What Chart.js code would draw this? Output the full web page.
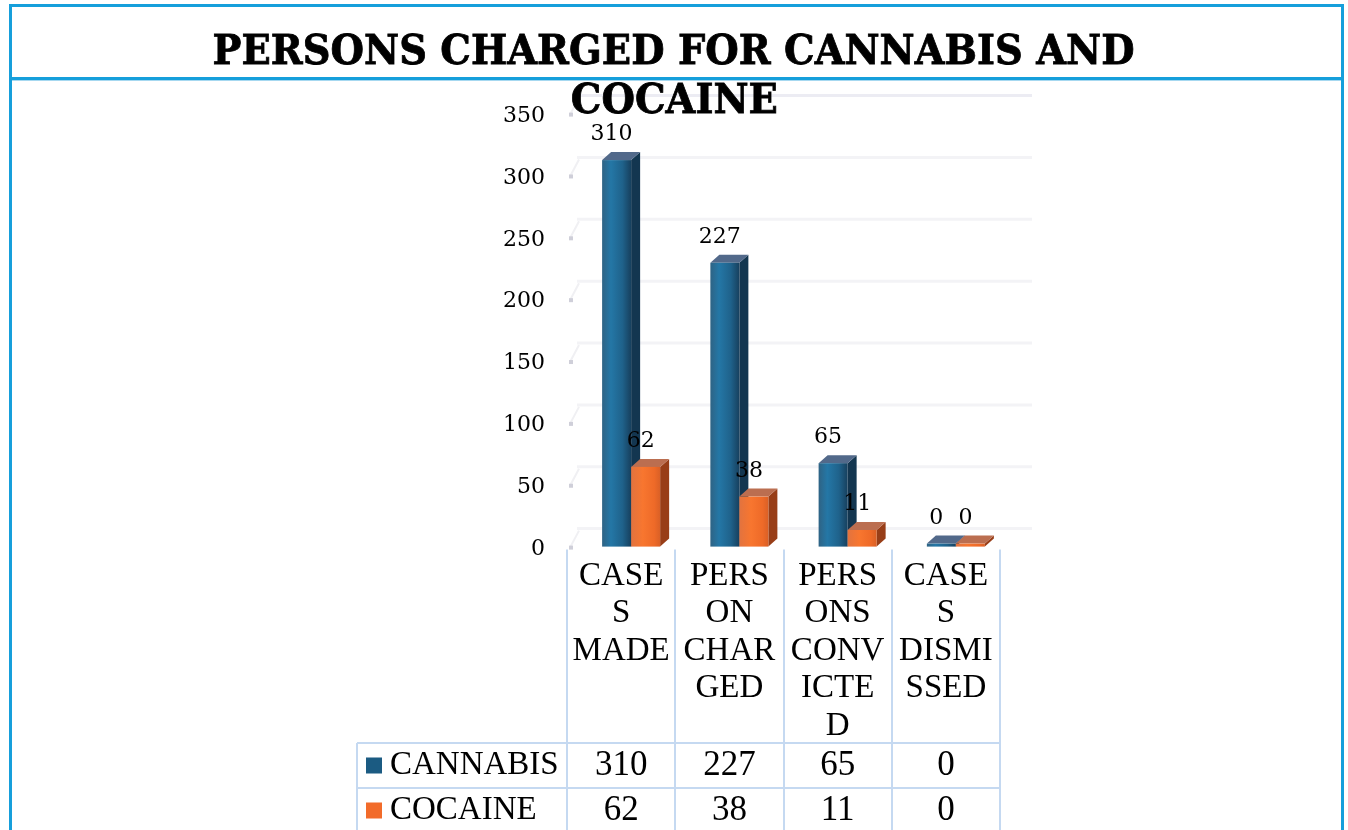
<!DOCTYPE html>
<html>
<head>
<meta charset="utf-8">
<title>Persons charged for cannabis and cocaine</title>
<script src="https://cdn.jsdelivr.net/npm/chart.js@4.4.0/dist/chart.umd.min.js"></script>
<style>
  html, body { margin: 0; padding: 0; background: #fff; }
  body { width: 1348px; height: 830px; position: relative; overflow: hidden; }
  #chart { position: absolute; left: 0; top: 0; }
  .frame { position: absolute; background: #169fdb; }
  #title {
    position: absolute; left: 0; top: 26px; width: 1348px;
    text-align: center; color: #000;
    font-family: "DejaVu Serif", serif; font-weight: bold;
    font-size: 41px; line-height: 49px; white-space: nowrap;
    -webkit-text-stroke: 0.8px #000;
  }
  #title span { display: inline-block; transform-origin: 50% 50%; }
</style>
</head>
<body>
<canvas id="chart" width="1348" height="830"></canvas>
<div class="frame" style="left:9px;top:4px;width:1335px;height:3px"></div>
<div class="frame" style="left:9px;top:4px;width:3px;height:826px"></div>
<div class="frame" style="left:1341px;top:4px;width:3px;height:826px"></div>
<div class="frame" style="left:9px;top:77px;width:1335px;height:3px"></div>
<div class="frame" style="left:12px;top:80px;width:1329px;height:1px;background:#a6d8f0"></div>
<div id="title"></div>

<script>
// ---- data ----
const titleLines = ["PERSONS CHARGED FOR CANNABIS AND", "COCAINE"];
const categoryLines = [
  ["CASE", "S", "MADE"],
  ["PERS", "ON", "CHAR", "GED"],
  ["PERS", "ONS", "CONV", "ICTE", "D"],
  ["CASE", "S", "DISMI", "SSED"]
];
const seriesNames = ["CANNABIS", "COCAINE"];
const cannabisValues = [310, 227, 65, 0];
const cocaineValues = [62, 38, 11, 0];
const yTickValues = [0, 50, 100, 150, 200, 250, 300, 350];

// ---- styling ----
const seriesColors = ["#1b5b82", "#f26b2a"];
const barStyles = [
  { front: [[0, "#2f6384"], [0.3, "#2477a6"], [0.7, "#1f628b"], [1, "#17405e"]],
    side: "#133650", top: "#52698a" },
  { front: [[0, "#e2733f"], [0.4, "#f8762f"], [0.8, "#ee6a28"], [1, "#da6026"]],
    side: "#983e18", top: "#bb6e50" }
];
const depth = { dx: 9, dy: 8, shift: 10, sink: 3 };
const tableLine = "#c5d9f1";

// ---- title ----
const titleBox = document.getElementById("title");
titleLines.forEach(t => {
  const line = document.createElement("div");
  const span = document.createElement("span");
  span.textContent = t;
  line.appendChild(span);
  titleBox.appendChild(line);
});
const spans = titleBox.querySelectorAll("span");
const fit = 922 / spans[0].getBoundingClientRect().width;
spans.forEach(s => { s.style.transform = "scaleX(" + fit.toFixed(4) + ")"; });

// ---- 3D bar bodies ----
const bars3d = {
  id: "bars3d",
  afterDatasetsDraw(chart) {
    const ctx = chart.ctx;
    ctx.save();
    chart.data.datasets.forEach((ds, di) => {
      const meta = chart.getDatasetMeta(di);
      if (meta.hidden) return;
      const st = barStyles[di];
      meta.data.forEach(el => {
        const p = el.getProps(["x", "y", "base", "width"], true);
        const x0 = p.x - p.width / 2 + depth.shift;
        const x1 = p.x + p.width / 2 + depth.shift;
        const top = p.y;
        const bottom = p.base + depth.sink;
        // right side face
        ctx.beginPath();
        ctx.moveTo(x1, top);
        ctx.lineTo(x1 + depth.dx, top - depth.dy);
        ctx.lineTo(x1 + depth.dx, bottom - depth.dy);
        ctx.lineTo(x1, bottom);
        ctx.closePath();
        ctx.fillStyle = st.side;
        ctx.fill();
        // top face
        ctx.beginPath();
        ctx.moveTo(x0, top);
        ctx.lineTo(x1, top);
        ctx.lineTo(x1 + depth.dx, top - depth.dy);
        ctx.lineTo(x0 + depth.dx, top - depth.dy);
        ctx.closePath();
        ctx.fillStyle = st.top;
        ctx.fill();
        // front face, shaded like a rounded column
        const g = ctx.createLinearGradient(x0, 0, x1, 0);
        st.front.forEach(s => g.addColorStop(s[0], s[1]));
        ctx.fillStyle = g;
        ctx.fillRect(x0, top, x1 - x0, bottom - top);
      });
    });
    ctx.restore();
  }
};

// ---- back wall grid + side wall marks ----
const wallGrid = {
  id: "wallGrid",
  beforeDatasetsDraw(chart) {
    const ctx = chart.ctx, a = chart.chartArea, y = chart.scales.y;
    ctx.save();
    yTickValues.forEach(v => {
      const py = y.getPixelForValue(v);
      ctx.strokeStyle = v === 350 ? "#ececf3" : "#f3f3f6";
      ctx.lineWidth = 3;
      ctx.beginPath();
      ctx.moveTo(a.left + 10, py - 15);
      ctx.lineTo(a.right + 32, py - 15);
      ctx.stroke();
      ctx.strokeStyle = "#f0f0f3";
      ctx.lineWidth = 2;
      ctx.beginPath();
      ctx.moveTo(a.left + 3, py + 4);
      ctx.lineTo(a.left + 12, py - 13);
      ctx.stroke();
      ctx.fillStyle = "#cfcfd9";
      ctx.fillRect(a.left + 2, py + 2, 4, 4);
    });
    ctx.restore();
  }
};

// ---- value labels over the bars ----
const valueLabels = {
  id: "valueLabels",
  afterDatasetsDraw(chart) {
    const ctx = chart.ctx;
    ctx.save();
    ctx.font = "22px 'DejaVu Serif'";
    ctx.fillStyle = "#000";
    ctx.textAlign = "center";
    ctx.textBaseline = "middle";
    chart.data.datasets.forEach((ds, di) => {
      chart.getDatasetMeta(di).data.forEach((el, i) => {
        const p = el.getProps(["x", "y"], true);
        ctx.fillText(String(ds.data[i]), p.x + 5, p.y - 25.5);
      });
    });
    ctx.restore();
  }
};

// ---- data table under the category axis ----
const dataTable = {
  id: "dataTable",
  afterDraw(chart) {
    const ctx = chart.ctx, a = chart.chartArea, xs = chart.scales.x;
    const n = chart.data.labels.length;
    const colW = (a.right - a.left) / n;
    const headTop = a.bottom + 6;
    const rowTop = 743, rowH = 45, tableLeft = 357;
    const bottom = chart.height;
    ctx.save();
    ctx.strokeStyle = tableLine;
    ctx.lineWidth = 2;
    ctx.beginPath();
    for (let i = 0; i <= n; i++) {
      const bx = Math.round(a.left + i * colW);
      ctx.moveTo(bx, headTop);
      ctx.lineTo(bx, bottom);
    }
    ctx.moveTo(tableLeft, rowTop);
    ctx.lineTo(tableLeft, bottom);
    for (let r = 0; r <= chart.data.datasets.length; r++) {
      const ry = rowTop + r * rowH;
      ctx.moveTo(tableLeft, ry);
      ctx.lineTo(a.right, ry);
    }
    ctx.stroke();

    ctx.textBaseline = "middle";
    chart.data.datasets.forEach((ds, r) => {
      const cy = rowTop + r * rowH + rowH / 2;
      ctx.fillStyle = seriesColors[r];
      ctx.fillRect(366, cy - 8, 16, 16);
      ctx.fillStyle = "#000";
      ctx.textAlign = "left";
      ctx.font = "33px 'Liberation Serif'";
      ctx.fillText(ds.label, 390, cy);
      ctx.textAlign = "center";
      ctx.font = "35px 'Liberation Serif'";
      ds.data.forEach((v, i) => {
        ctx.fillText(String(v), xs.getPixelForValue(i), cy);
      });
    });
    ctx.restore();
  }
};

new Chart(document.getElementById("chart"), {
  type: "bar",
  data: {
    labels: categoryLines,
    datasets: [
      { label: seriesNames[0], data: cannabisValues,
        backgroundColor: "rgba(0,0,0,0)", borderWidth: 0 },
      { label: seriesNames[1], data: cocaineValues,
        backgroundColor: "rgba(0,0,0,0)", borderWidth: 0 }
    ]
  },
  options: {
    responsive: false,
    animation: false,
    events: [],
    datasets: { bar: { categoryPercentage: 0.536, barPercentage: 1.0 } },
    layout: { padding: { top: 110.6, right: 348, bottom: 0, left: 440 } },
    plugins: {
      legend: { display: false },
      title: { display: false },
      tooltip: { enabled: false }
    },
    scales: {
      x: {
        grid: { display: false, drawTicks: false },
        border: { display: false },
        ticks: {
          autoSkip: false, maxRotation: 0, minRotation: 0,
          padding: 13.6, color: "#000",
          font: { family: "'Liberation Serif'", size: 33, lineHeight: 1.136 }
        },
        afterFit(s) { s.height = 830 - 543.6; }
      },
      y: {
        min: 0, max: 350,
        grid: { display: false, drawTicks: false },
        border: { display: false },
        afterBuildTicks(s) { s.ticks = yTickValues.map(v => ({ value: v })); },
        ticks: {
          padding: 22, labelOffset: 5.5, color: "#000",
          font: { family: "'DejaVu Serif'", size: 22 }
        },
        afterFit(s) { s.width = 127; }
      }
    }
  },
  plugins: [wallGrid, bars3d, valueLabels, dataTable]
});
</script>
</body>
</html>
